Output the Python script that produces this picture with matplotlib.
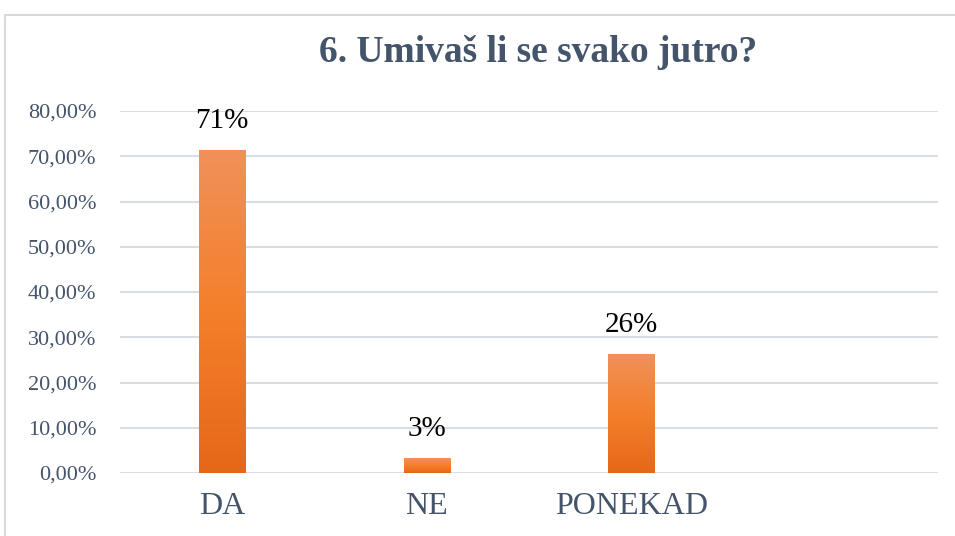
import matplotlib.pyplot as plt
import numpy as np
from matplotlib.colors import LinearSegmentedColormap
from matplotlib.patches import Rectangle

categories = ['DA', 'NE', 'PONEKAD', '']
values = [71.2, 3.1, 26.1, 0]
value_labels = ['71%', '3%', '26%', '']
yticks = [0, 10, 20, 30, 40, 50, 60, 70, 80]

title_color = '#44546A'
grid_color = '#D9DEE5'
grad = LinearSegmentedColormap.from_list('bar', ['#E56819', '#F47F2B', '#F0915A'])

plt.rcParams['font.family'] = ['Liberation Serif', 'DejaVu Serif']

fig = plt.figure(figsize=(9.55, 5.36), dpi=100)
ax = fig.add_axes([120/955, 1-473/536, (938-120)/955, (473-111)/536])

x = np.arange(len(categories))
width = 0.225
bars = ax.bar(x, values, width=width, color='none', zorder=3)
g = np.linspace(0, 1, 256).reshape(-1, 1)
for b in bars:
    if b.get_height() <= 0:
        continue
    x0, w, h = b.get_x(), b.get_width(), b.get_height()
    ax.imshow(g, cmap=grad, origin='lower', aspect='auto',
              extent=(x0, x0 + w, 0, h), zorder=3)

for xi, v, lab in zip(x, values, value_labels):
    if lab:
        ax.annotate(lab, (xi, v), xytext=(0, 12), textcoords='offset points',
                    ha='center', va='bottom', fontsize=21, color='black')

ax.set_xlim(-0.5, len(categories) - 0.5)
ax.set_ylim(0, 80)
ax.set_yticks(yticks)
ax.set_yticklabels([f'{t:.2f}'.replace('.', ',') + '%' for t in yticks])
ax.set_xticks(x)
ax.set_xticklabels(categories)
ax.tick_params(axis='y', length=0, pad=17, labelsize=16, labelcolor=title_color)
ax.tick_params(axis='x', length=0, pad=14, labelsize=23, labelcolor=title_color)
ax.grid(axis='y', color=grid_color, linewidth=1.5, zorder=0)
ax.set_axisbelow(True)
for s in ax.spines.values():
    s.set_visible(False)

fig.text(538/955, 1-52/536, '6. Umivaš li se svako jutro?', ha='center', va='center',
         fontsize=27, fontweight='bold', color=title_color)

# outer chart frame
fig.patches.append(Rectangle((5/955, -0.1), 1.2, 1 - 15/536 + 0.1, transform=fig.transFigure,
                             fill=False, edgecolor='#D9D9D9', linewidth=1.5))

fig.savefig('out.png', dpi=100)
